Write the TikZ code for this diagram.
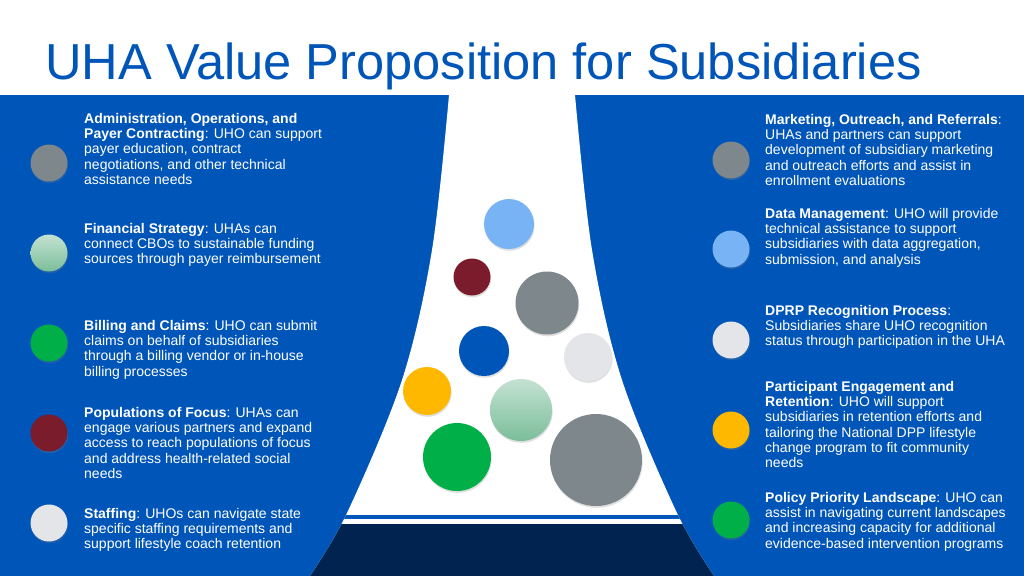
\documentclass[tikz,border=0pt]{standalone}
\usepackage{fontspec}
\setmainfont{Liberation Sans}
\usetikzlibrary{shadows}
\definecolor{uhablue}{HTML}{0055B8}
\definecolor{uhanavy}{HTML}{00234F}
\definecolor{slate}{HTML}{7E878C}
\definecolor{silver}{HTML}{E3E5E8}
\definecolor{sky}{HTML}{78B3F5}
\definecolor{wine}{HTML}{7A1C2B}
\definecolor{amber}{HTML}{FFB800}
\definecolor{leaf}{HTML}{00AF47}
\definecolor{mintlow}{HTML}{7BBE9A}
\colorlet{minttop}{mintlow!45!white}
\newcommand{\funnel}{plot[smooth,tension=0.55] coordinates {(449,95) (432,250) (402,380) (347,513) (310,576)} -- plot[smooth,tension=0.55] coordinates {(714,576) (677,513) (622,380) (592,250) (575,95)} -- cycle}
\newcommand{\head}[1]{\textbf{#1}}

\begin{document}
\begin{tikzpicture}[x=1pt,y=-1pt,
    ball/.style={circle,inner sep=0pt,minimum size=#1,%
                 drop shadow={opacity=0.25,shadow xshift=0.6pt,shadow yshift=-1.8pt}},
    dot/.style={ball=37pt},
    mint/.style={top color=minttop,bottom color=mintlow},
    item/.style={anchor=north west,align=left,text=white,inner sep=0pt,%
                 font=\fontsize{14}{15.25}\selectfont}
]
\useasboundingbox (0,0) rectangle (1024,576);

% panels and funnel
\fill[uhablue] (0,95) rectangle (1024,576);
\fill[white] \funnel;
\begin{scope}
  \clip \funnel;
  \fill[uhablue] (300,515) rectangle (730,518.5);
  \fill[uhanavy] (300,524) rectangle (730,576);
\end{scope}

\node[anchor=base west,text=uhablue,inner sep=0pt,font=\fontsize{50.6}{55}\selectfont]
  (title) at (45,79) {UHA Value Proposition for Subsidiaries};

% balls in the funnel
\node[ball=50pt,fill=sky]    (b1) at (509,224) {};
\node[ball=37pt,fill=wine]   (b2) at (472,277) {};
\node[ball=63pt,fill=slate]  (b3) at (547,303) {};
\node[ball=50pt,fill=uhablue] (b4) at (484,351) {};
\node[ball=48pt,fill=silver] (b5) at (588,357) {};
\node[ball=48pt,fill=amber]  (b6) at (427,391) {};
\node[ball=62pt,mint]        (b7) at (521,410) {};
\node[ball=68pt,fill=leaf]   (b8) at (457,457) {};
\node[ball=92pt,fill=slate]  (b9) at (596,460) {};

% left column
\node[dot,fill=slate]  (dadm) at (49,163) {};
\node[dot,mint]        (dfin) at (49,253) {};
\node[dot,fill=leaf]   (dbil) at (49,343) {};
\node[dot,fill=wine]   (dpop) at (49,433) {};
\node[dot,fill=silver] (dsta) at (49,523) {};

\node[item] (adm) at (84,113) {\head{Administration, Operations, and}\\ \head{Payer Contracting}: UHO can support\\ payer education, contract\\ negotiations, and other technical\\ assistance needs};
\node[item] (fin) at (84,223) {\head{Financial Strategy}: UHAs can\\ connect CBOs to sustainable funding\\ sources through payer reimbursement};
\node[item] (bil) at (84,320) {\head{Billing and Claims}: UHO can submit\\ claims on behalf of subsidiaries\\ through a billing vendor or in-house\\ billing processes};
\node[item] (pop) at (84,407) {\head{Populations of Focus}: UHAs can\\ engage various partners and expand\\ access to reach populations of focus\\ and address health-related social\\ needs};
\node[item] (sta) at (84,508) {\head{Staffing}: UHOs can navigate state\\ specific staffing requirements and\\ support lifestyle coach retention};

% right column
\node[dot,fill=slate]  (dmar) at (731,160) {};
\node[dot,fill=sky]    (ddat) at (731,249) {};
\node[dot,fill=silver] (ddpr) at (731,340) {};
\node[dot,fill=amber]  (dpar) at (731,430) {};
\node[dot,fill=leaf]   (dpol) at (731,520) {};

\node[item] (mar) at (765,114) {\head{Marketing, Outreach, and Referrals}:\\ UHAs and partners can support\\ development of subsidiary marketing\\ and outreach efforts and assist in\\ enrollment evaluations};
\node[item] (dat) at (765,208) {\head{Data Management}: UHO will provide\\ technical assistance to support\\ subsidiaries with data aggregation,\\ submission, and analysis};
\node[item] (dpr) at (765,305) {\head{DPRP Recognition Process}:\\ Subsidiaries share UHO recognition\\ status through participation in the UHA};
\node[item] (par) at (765,381) {\head{Participant Engagement and}\\ \head{Retention}: UHO will support\\ subsidiaries in retention efforts and\\ tailoring the National DPP lifestyle\\ change program to fit community\\ needs};
\node[item] (pol) at (765,492) {\head{Policy Priority Landscape}: UHO can\\ assist in navigating current landscapes\\ and increasing capacity for additional\\ evidence-based intervention programs};
\end{tikzpicture}
\end{document}
